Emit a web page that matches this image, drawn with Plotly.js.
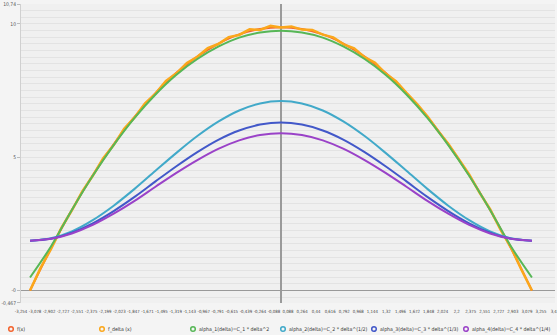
<!DOCTYPE html>
<html><head><meta charset="utf-8">
<script src="https://cdn.plot.ly/plotly-3.0.1.min.js"></script>
<style>html,body{margin:0;padding:0;background:#f4f4f4;}#c{width:557px;height:335px;}</style>
</head><body><div id="c"></div>
<script>
// ---- data ----
const xs = [-3.1416,-2.8798,-2.618,-2.3562,-2.0944,-1.8326,-1.5708,-1.309,-1.0472,-0.7854,-0.5236,-0.2618,0,
            0.2618,0.5236,0.7854,1.0472,1.309,1.5708,1.8326,2.0944,2.3562,2.618,2.8798,3.1416];
const fx     = [0.00,1.58,3.02,4.32,5.48,6.51,7.40,8.16,8.77,9.25,9.60,9.80,9.87,9.80,9.60,9.25,8.77,8.16,7.40,6.51,5.48,4.32,3.02,1.58,0.00];
const alpha1 = [0.49,1.65,3.02,4.30,5.45,6.47,7.35,8.09,8.68,9.14,9.48,9.67,9.74,9.67,9.48,9.14,8.68,8.09,7.35,6.47,5.45,4.30,3.02,1.65,0.49];
const alpha2 = [1.87,1.96,2.22,2.64,3.18,3.81,4.49,5.16,5.79,6.33,6.75,7.01,7.10,7.01,6.75,6.33,5.79,5.16,4.49,3.81,3.18,2.64,2.22,1.96,1.87];
const alpha3 = [1.87,1.94,2.17,2.52,2.98,3.51,4.09,4.66,5.19,5.65,6.00,6.22,6.30,6.22,6.00,5.65,5.19,4.66,4.09,3.51,2.98,2.52,2.17,1.94,1.87];
const alpha4 = [1.87,1.94,2.14,2.46,2.88,3.36,3.89,4.41,4.89,5.31,5.63,5.83,5.90,5.83,5.63,5.31,4.89,4.41,3.89,3.36,2.88,2.46,2.14,1.94,1.87];
const xsDelta = [-3.1416,-3.0107,-2.8798,-2.7489,-2.618,-2.4871,-2.3562,-2.2253,-2.0944,-1.9635,-1.8326,-1.7017,-1.5708,-1.4399,-1.309,-1.1781,-1.0472,-0.9163,-0.7854,-0.6545,-0.5236,-0.3927,-0.2618,-0.1309,0,
                 0.1309,0.2618,0.3927,0.5236,0.6545,0.7854,0.9163,1.0472,1.1781,1.309,1.4399,1.5708,1.7017,1.8326,1.9635,2.0944,2.2253,2.3562,2.4871,2.618,2.7489,2.8798,3.0107,3.1416];
const fDelta = [0.00,0.84,1.55,2.35,3.00,3.72,4.30,4.96,5.45,6.06,6.49,7.02,7.38,7.86,8.14,8.53,8.76,9.09,9.24,9.50,9.58,9.79,9.77,9.92,9.86,
                9.90,9.78,9.77,9.59,9.49,9.23,9.08,8.75,8.54,8.13,7.85,7.41,7.00,6.53,5.99,5.50,4.90,4.35,3.66,3.05,2.28,1.61,0.78,0.00];
const xTickText = ['-3,254','-3,078','-2,902','-2,727','-2,551','-2,375','-2,199','-2,023','-1,847','-1,671','-1,495','-1,319','-1,143','-0,967','-0,791','-0,615','-0,439','-0,264','-0,088',
                   '0,088','0,264','0,44','0,616','0,792','0,968','1,144','1,32','1,496','1,672','1,848','2,024','2,2','2,375','2,551','2,727','2,903','3,079','3,255','3,43'];
const yTickText = ['-0,467','-0','5','10','10,74'];
const seriesNames = ['f(x)','f_delta (x)','alpha_1(delta)=C_1 * delta^2','alpha_2(delta)=C_2 * delta^(1/2)','alpha_3(delta)=C_3 * delta^(1/3)','alpha_4(delta)=C_4 * delta^(1/4)'];
const colors = ['#f3622d','#fba71b','#57b757','#41a9c9','#4258c9','#9a42c8'];

const num = s => parseFloat(s.replace(',', '.'));
const xTickVals = xTickText.map(num);
const yTickVals = yTickText.map(num);

const mk = (x, y, i, shape) => ({x, y, type:'scatter', mode:'lines', name:seriesNames[i],
  line:{color:colors[i], width:2, shape:shape||'spline'}, showlegend:false, hoverinfo:'skip'});
const data = [
  mk(xs, fx, 0),
  Object.assign(mk(xsDelta, fDelta, 1, 'linear'), {line:{color:colors[1], width:2.5}}),
  mk(xs, alpha1, 2), mk(xs, alpha2, 3), mk(xs, alpha3, 4), mk(xs, alpha4, 5)
];

// legend built from shapes + annotations (pixel positions)
const L = 21, W = 534, T = 4, H = 299;
const px = p => (p - L) / W;
const py = p => (T + H - p) / H;
const legX = [11, 102, 193, 283, 374, 466];
const FONT = '"DejaVu Sans Condensed", "Liberation Sans Narrow", "Open Sans", sans-serif';
const shapes = [], annotations = [];
legX.forEach((p, i) => {
  shapes.push({type:'circle', xref:'paper', yref:'paper', xsizemode:'pixel', ysizemode:'pixel',
    xanchor:px(p), yanchor:py(329), x0:-2.3, x1:2.3, y0:-2.3, y1:2.3,
    line:{color:colors[i], width:1.5}, fillcolor:'rgba(0,0,0,0)'});
  annotations.push({xref:'paper', yref:'paper', x:px(p+4), y:py(329), xanchor:'left', yanchor:'middle',
    text:seriesNames[i], showarrow:false, font:{size:5.2, color:'#333', family:FONT}});
});

const layout = {
  width:557, height:335,
  margin:{l:L, r:557-L-W, t:T, b:335-T-H, pad:0},
  paper_bgcolor:'#f4f4f4', plot_bgcolor:'#f0f0f0',
  showlegend:false,
  font:{family:FONT, size:5, color:'#555'},
  xaxis:{range:[-3.2545, 3.4305], tickvals:xTickVals, ticktext:xTickText, tickangle:0, ticklabeloverflow:'allow',
    showgrid:false, zeroline:true, zerolinecolor:'#9a9a9a', zerolinewidth:1.2, showline:false,
    ticks:'outside', ticklen:4, tickcolor:'rgba(0,0,0,0)',
    tickfont:{size:4.3, color:'#444', family:FONT}},
  yaxis:{range:[-0.4675, 10.7405], tickvals:yTickVals, ticktext:yTickText,
    showgrid:false, zeroline:true, zerolinecolor:'#999', zerolinewidth:1.5,
    showline:true, linecolor:'#d0d0d0', ticks:'outside', ticklen:3, tickcolor:'#bbb',
    tickfont:{size:5, color:'#555', family:FONT},
    minor:{dtick:0.25, tick0:0, showgrid:true, gridcolor:'#e3e3e3', gridwidth:1, ticks:''}},
  shapes, annotations
};
Plotly.newPlot('c', data, layout, {displayModeBar:false, staticPlot:true});
</script></body></html>
